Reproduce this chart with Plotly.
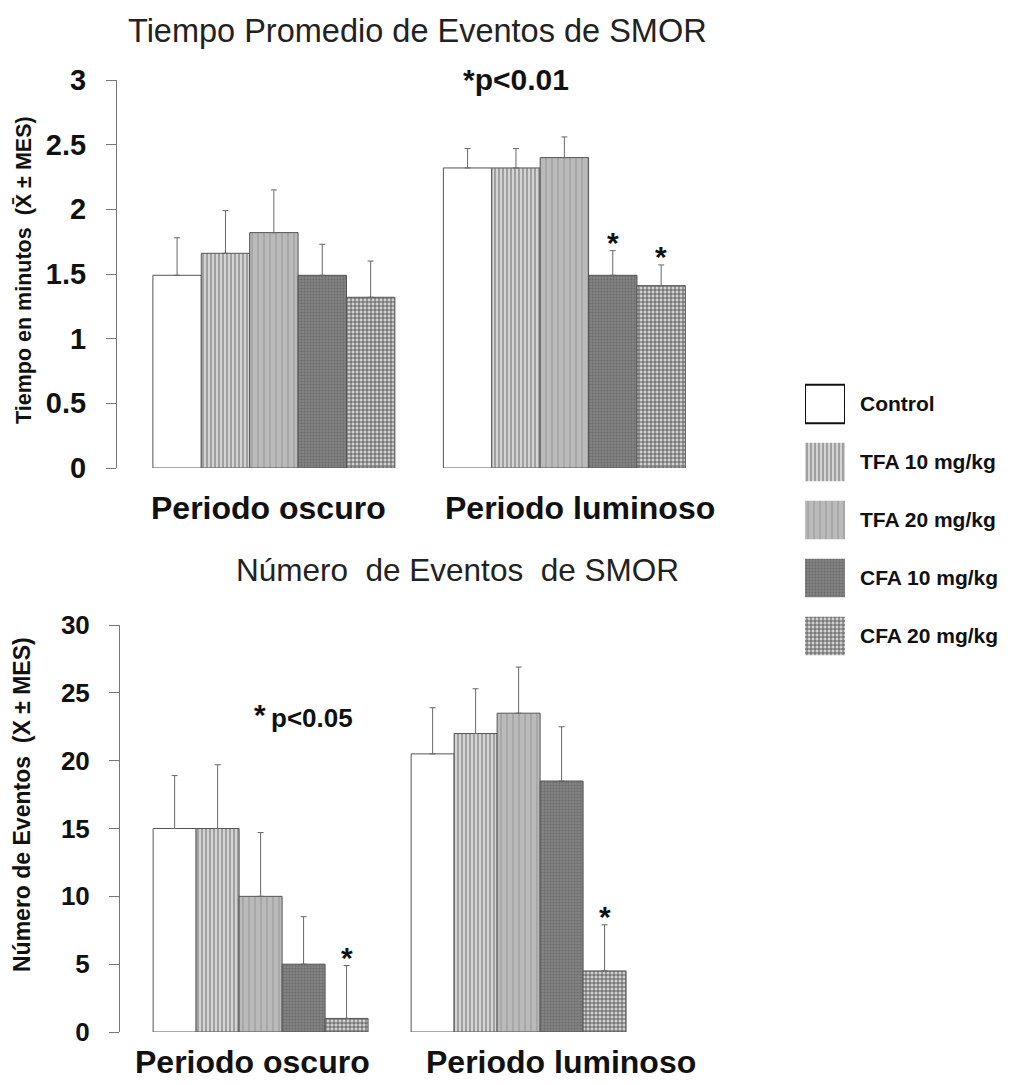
import plotly.graph_objects as go

W, H = 1021, 1085
OFF = 8  # page body margin
FW, FH = W - OFF, H - OFF

groups = ["Periodo oscuro", "Periodo luminoso"]
series = ["Control", "TFA 10 mg/kg", "TFA 20 mg/kg", "CFA 10 mg/kg", "CFA 20 mg/kg"]

# Top panel: mean time of SMOR events (minutes), [oscuro, luminoso]
time_control = [1.49, 2.32]
time_tfa10 = [1.66, 2.32]
time_tfa20 = [1.82, 2.40]
time_cfa10 = [1.49, 1.49]
time_cfa20 = [1.32, 1.41]
# upper error (MES)
time_control_err = [0.29, 0.15]
time_tfa10_err = [0.33, 0.15]
time_tfa20_err = [0.33, 0.16]
time_cfa10_err = [0.24, 0.19]
time_cfa20_err = [0.28, 0.16]
# significance marks (series index, group index)
time_sig = [(3, 1), (4, 1)]

# Bottom panel: number of SMOR events, [oscuro, luminoso]
num_control = [15.0, 20.5]
num_tfa10 = [15.0, 22.0]
num_tfa20 = [10.0, 23.5]
num_cfa10 = [5.0, 18.5]
num_cfa20 = [1.0, 4.5]
num_control_err = [3.9, 3.4]
num_tfa10_err = [4.7, 3.3]
num_tfa20_err = [4.7, 3.4]
num_cfa10_err = [3.5, 4.0]
num_cfa20_err = [3.9, 3.4]
num_sig = [(4, 0), (4, 1)]

time_vals = [time_control, time_tfa10, time_tfa20, time_cfa10, time_cfa20]
time_errs = [time_control_err, time_tfa10_err, time_tfa20_err, time_cfa10_err, time_cfa20_err]
num_vals = [num_control, num_tfa10, num_tfa20, num_cfa10, num_cfa20]
num_errs = [num_control_err, num_tfa10_err, num_tfa20_err, num_cfa10_err, num_cfa20_err]

# styles
styles = [
    dict(shape="", bg="#ffffff", fg="#ffffff", size=8, sol=0.3),
    dict(shape="|", bg="#d4d4d4", fg="#8a8a8a", size=4, sol=0.35),
    dict(shape="|", bg="#bababa", fg="#a6a6a6", size=6, sol=0.3),
    dict(shape=".", bg="#828282", fg="#6a6a6a", size=3, sol=0.3),
    dict(shape="+", bg="#d0d0d0", fg="#555555", size=4, sol=0.4),
]

FONT = "Liberation Sans, Arial, sans-serif"
BOLD = dict(family=FONT, color="#111111", weight="bold")

BARGAP = 0.167
NS = len(series)
bw = (1 - BARGAP) / NS

fig = go.Figure()

def marker_for(i, outline="#555555", lw=1):
    st = styles[i]
    return dict(
        color=st["bg"],
        line=dict(color=outline, width=lw),
        pattern=dict(shape=st["shape"], bgcolor=st["bg"], fgcolor=st["fg"],
                     size=st["size"], solidity=st["sol"], fillmode="replace"),
    )

def add_panel(vals, errs, xa, ya):
    for i, name in enumerate(series):
        fig.add_trace(go.Bar(
            x=[0, 1], y=vals[i], name=name, showlegend=False,
            xaxis=xa, yaxis=ya, marker=marker_for(i),
            error_y=dict(type="data", symmetric=False, array=errs[i], arrayminus=[0, 0],
                         color="#666666", thickness=1, width=3),
        ))

add_panel(time_vals, time_errs, "x", "y")
add_panel(num_vals, num_errs, "x2", "y2")

# legend panel (drawn as a small bar chart, one box per series)
for i, name in enumerate(series):
    fig.add_trace(go.Bar(
        x=[1], y=[name], orientation="h", width=0.66, offset=-0.33, showlegend=False,
        xaxis="x3", yaxis="y3",
        marker=marker_for(i, outline="#111111" if i == 0 else "rgba(0,0,0,0)",
                          lw=2 if i == 0 else 0),
    ))

def px_x(p):
    return (p - OFF) / FW

def px_y(p):
    return 1 - (p - OFF) / FH

yax_common = dict(showline=True, linecolor="#777777", linewidth=1, ticks="outside",
                  tickcolor="#777777", ticklen=10, showgrid=False, zeroline=False,
                  ticklabelstandoff=14, automargin=False)
xax_common = dict(showline=False, showticklabels=False, showgrid=False, zeroline=False,
                  ticks="", automargin=False)

fig.update_layout(
    template="none",
    width=FW, height=FH, margin=dict(l=0, r=0, t=0, b=0, autoexpand=False),
    paper_bgcolor="white", plot_bgcolor="white", showlegend=False,
    barmode="group", bargap=BARGAP, bargroupgap=0,
    font=dict(family=FONT, color="#111111"),
    xaxis=dict(domain=[px_x(117), px_x(698)], range=[-0.54, 1.46], **xax_common),
    yaxis=dict(domain=[px_y(468), px_y(80)], range=[0, 3], dtick=0.5,
               tickfont=dict(size=29, **BOLD), **yax_common),
    xaxis2=dict(domain=[px_x(120), px_x(636)], range=[-0.545, 1.455], anchor="y2", **xax_common),
    yaxis2=dict(domain=[px_y(1032), px_y(625)], range=[0, 30], dtick=5, anchor="x2",
                tickfont=dict(size=26, **BOLD), **yax_common),
    xaxis3=dict(domain=[px_x(805), px_x(845)], range=[0, 1], anchor="y3", visible=False,
                automargin=False),
    yaxis3=dict(domain=[px_y(665), px_y(375)], anchor="x3", type="category",
                categoryorder="array", categoryarray=series,
                autorange="reversed", side="right", showline=False, ticks="",
                showgrid=False, zeroline=False, ticklabelstandoff=14, automargin=False,
                tickfont=dict(size=21, **BOLD)),
)

C = dict(xanchor="center", yanchor="middle", showarrow=False)
ann = []
# titles
ann.append(dict(text="Tiempo Promedio de Eventos de SMOR", x=px_x(417), y=px_y(31),
                xref="paper", yref="paper",
                font=dict(family=FONT, size=32.5, color="#222222"), **C))
ann.append(dict(text="Número  de Eventos  de SMOR", x=px_x(457), y=px_y(570),
                xref="paper", yref="paper",
                font=dict(family=FONT, size=31.5, color="#222222"), **C))
# y-axis titles
ann.append(dict(text="Tiempo en minutos  (X\u0304 ± MES)", x=px_x(24), y=px_y(270),
                xref="paper", yref="paper", textangle=-90,
                font=dict(size=21.5, **BOLD), **C))
ann.append(dict(text="Número de Eventos  (X ± MES)", x=px_x(22), y=px_y(805),
                xref="paper", yref="paper", textangle=-90,
                font=dict(size=23, **BOLD), **C))
# group labels
for xref, shifts, ypx in [("x", [269 - 274, 580.5 - 564.5], 508),
                          ("x2", [252.5 - 260.5, 561 - 518.5], 1062)]:
    for g, name in enumerate(groups):
        ann.append(dict(text=name, x=g, xref=xref, y=px_y(ypx), yref="paper",
                        xshift=shifts[g], font=dict(size=32, **BOLD), **C))
# p-value notes
ann.append(dict(text="*p<0.01", x=px_x(516), y=px_y(80), xref="paper", yref="paper",
                font=dict(size=30, **BOLD), **C))
ann.append(dict(text="*", x=px_x(260), y=px_y(714), xref="paper", yref="paper",
                font=dict(size=30, **BOLD), **C))
ann.append(dict(text="p<0.05", x=px_x(312), y=px_y(718), xref="paper", yref="paper",
                font=dict(size=26, **BOLD), **C))
# significance stars
for sig, vals, errs, xr, yr in [(time_sig, time_vals, time_errs, "x", "y"),
                                (num_sig, num_vals, num_errs, "x2", "y2")]:
    for (i, g) in sig:
        ann.append(dict(text="*", x=g + (i - (NS - 1) / 2) * bw,
                        y=vals[i][g] + errs[i][g], xref=xr, yref=yr,
                        yshift=8, font=dict(size=30, **BOLD), **C))

fig.update_layout(annotations=ann)
fig.write_html("out.html")
